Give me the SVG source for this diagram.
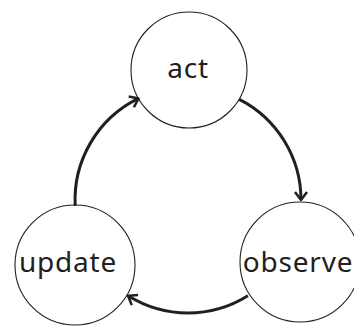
<svg xmlns="http://www.w3.org/2000/svg" width="354" height="327" viewBox="0 0 354 327">
<style>
.node{fill:#fff;stroke:#231f20;stroke-width:1.1}
.lbl{font-family:"Noto Sans","Open Sans",sans-serif;font-size:28px;letter-spacing:0.8px;fill:#231f20;text-anchor:middle}
.edge{fill:none;stroke:#231f20;stroke-width:3}
</style>
<defs>
<marker id="arr" viewBox="0 0 10 14" refX="9" refY="7" markerWidth="10" markerHeight="14" markerUnits="userSpaceOnUse" orient="auto">
<path d="M1,1 L9,7 L1,13" fill="none" stroke="#231f20" stroke-width="2.5"/>
</marker>
</defs>
<g id="act"><circle class="node" cx="189" cy="70" r="58"/><text class="lbl" x="188" y="78">act</text></g>
<g id="observe"><circle class="node" cx="300" cy="262" r="60"/><text class="lbl" x="298" y="272">observe</text></g>
<g id="update"><circle class="node" cx="75" cy="265" r="60"/><text class="lbl" x="68" y="272">update</text></g>
<g id="connectors">
<path class="edge" d="M239.3,99.3 A113,113 0 0 1 301,200" marker-end="url(#arr)"/>
<path class="edge" d="M247.9,295.8 A113,113 0 0 1 128.1,295.8" marker-end="url(#arr)"/>
<path class="edge" d="M75.2,205.9 A113,113 0 0 1 138.5,98.4" marker-end="url(#arr)"/>
</g>
</svg>
